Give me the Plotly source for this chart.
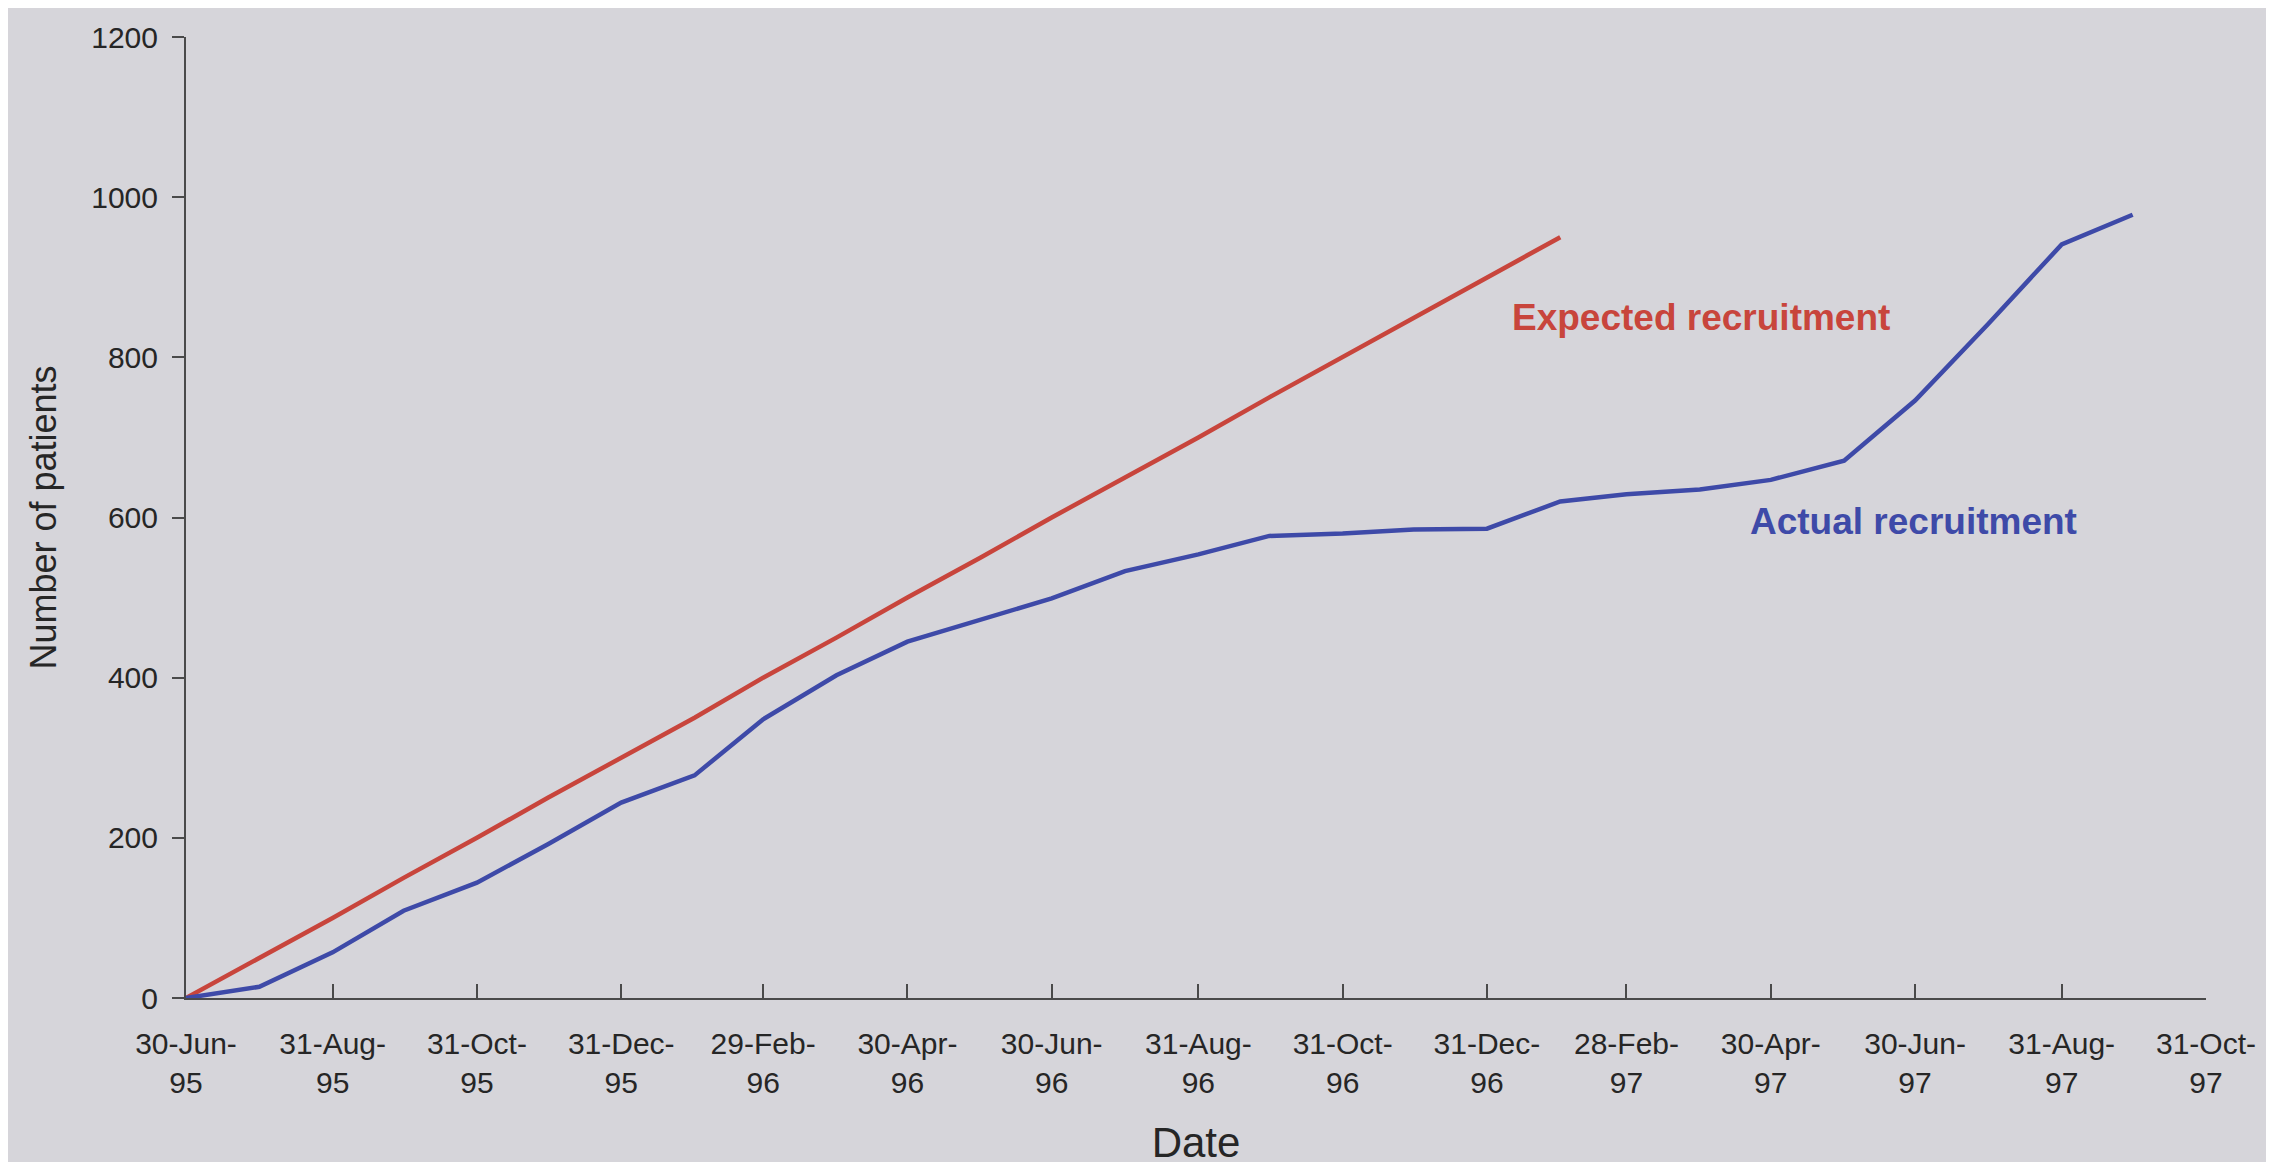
import plotly.graph_objects as go

# Monthly dates of the recruitment counts
dates = [
    "1995-06-30", "1995-07-31", "1995-08-31", "1995-09-30", "1995-10-31", "1995-11-30",
    "1995-12-31", "1996-01-31", "1996-02-29", "1996-03-31", "1996-04-30", "1996-05-31",
    "1996-06-30", "1996-07-31", "1996-08-31", "1996-09-30", "1996-10-31", "1996-11-30",
    "1996-12-31", "1997-01-31", "1997-02-28", "1997-03-31", "1997-04-30", "1997-05-31",
    "1997-06-30", "1997-07-31", "1997-08-31", "1997-09-30",
]
actual = [0, 14, 57, 109, 144, 192, 244, 278, 348, 403, 445, 473, 499, 533, 554, 577,
          580, 585, 586, 620, 629, 635, 647, 671, 746, 842, 941, 978]

expected_dates = dates[:20]
expected = [0, 50, 100, 150, 200, 250, 300, 350, 400, 450, 500, 550, 600, 650, 700,
            750, 800, 850, 900, 950]

tick_dates = ["1995-06-30", "1995-08-31", "1995-10-31", "1995-12-31", "1996-02-29",
              "1996-04-30", "1996-06-30", "1996-08-31", "1996-10-31", "1996-12-31",
              "1997-02-28", "1997-04-30", "1997-06-30", "1997-08-31", "1997-10-31"]
tick_labels = ["30-Jun-<br>95", "31-Aug-<br>95", "31-Oct-<br>95", "31-Dec-<br>95", "29-Feb-<br>96",
               "30-Apr-<br>96", "30-Jun-<br>96", "31-Aug-<br>96", "31-Oct-<br>96", "31-Dec-<br>96",
               "28-Feb-<br>97", "30-Apr-<br>97", "30-Jun-<br>97", "31-Aug-<br>97", "31-Oct-<br>97"]
y_ticks = [0, 200, 400, 600, 800, 1000, 1200]

RED = "#c8453c"
BLUE = "#3e4aa8"
TEXT = "#262626"
AXIS = "#4a4a4a"
BG = "#d6d5da"
FONT = "Liberation Sans, Arial, sans-serif"

fig = go.Figure()
fig.add_trace(go.Scatter(x=expected_dates, y=expected, mode="lines",
                         line=dict(color=RED, width=4.5), name="Expected recruitment"))
fig.add_trace(go.Scatter(x=dates, y=actual, mode="lines",
                         line=dict(color=BLUE, width=4.5), name="Actual recruitment"))

fig.add_annotation(text="<b>Expected recruitment</b>", xref="paper", yref="y",
                   x=0.75, y=850, showarrow=False, xanchor="center", yanchor="middle",
                   font=dict(family=FONT, size=37, color=RED))
fig.add_annotation(text="<b>Actual recruitment</b>", xref="paper", yref="y",
                   x=0.855, y=595, showarrow=False, xanchor="center", yanchor="middle",
                   font=dict(family=FONT, size=37, color=BLUE))

fig.update_layout(
    width=2274, height=1162,
    margin=dict(l=178, r=76, t=26, b=172),
    paper_bgcolor=BG, plot_bgcolor=BG,
    showlegend=False,
    font=dict(family=FONT, color=TEXT, size=30),
)
fig.update_xaxes(
    type="date", range=["1995-06-30", "1997-10-31"],
    tickmode="array", tickvals=tick_dates, ticktext=tick_labels,
    ticks="inside", ticklen=14, tickwidth=2, tickcolor=AXIS,
    showline=True, linecolor=AXIS, linewidth=2,
    showgrid=False, zeroline=False,
    tickfont=dict(size=30, color=TEXT), ticklabelstandoff=18,
    title=dict(text="Date", font=dict(size=42, color=TEXT), standoff=30),
)
fig.update_yaxes(
    range=[0, 1200], tickmode="array", tickvals=y_ticks,
    ticks="outside", ticklen=12, tickwidth=2, tickcolor=AXIS,
    showline=True, linecolor=AXIS, linewidth=2,
    showgrid=False, zeroline=False,
    tickfont=dict(size=30, color=TEXT), ticklabelstandoff=8,
    title=dict(text="Number of patients", font=dict(size=36, color=TEXT), standoff=24),
)

fig.write_html("out.html")
